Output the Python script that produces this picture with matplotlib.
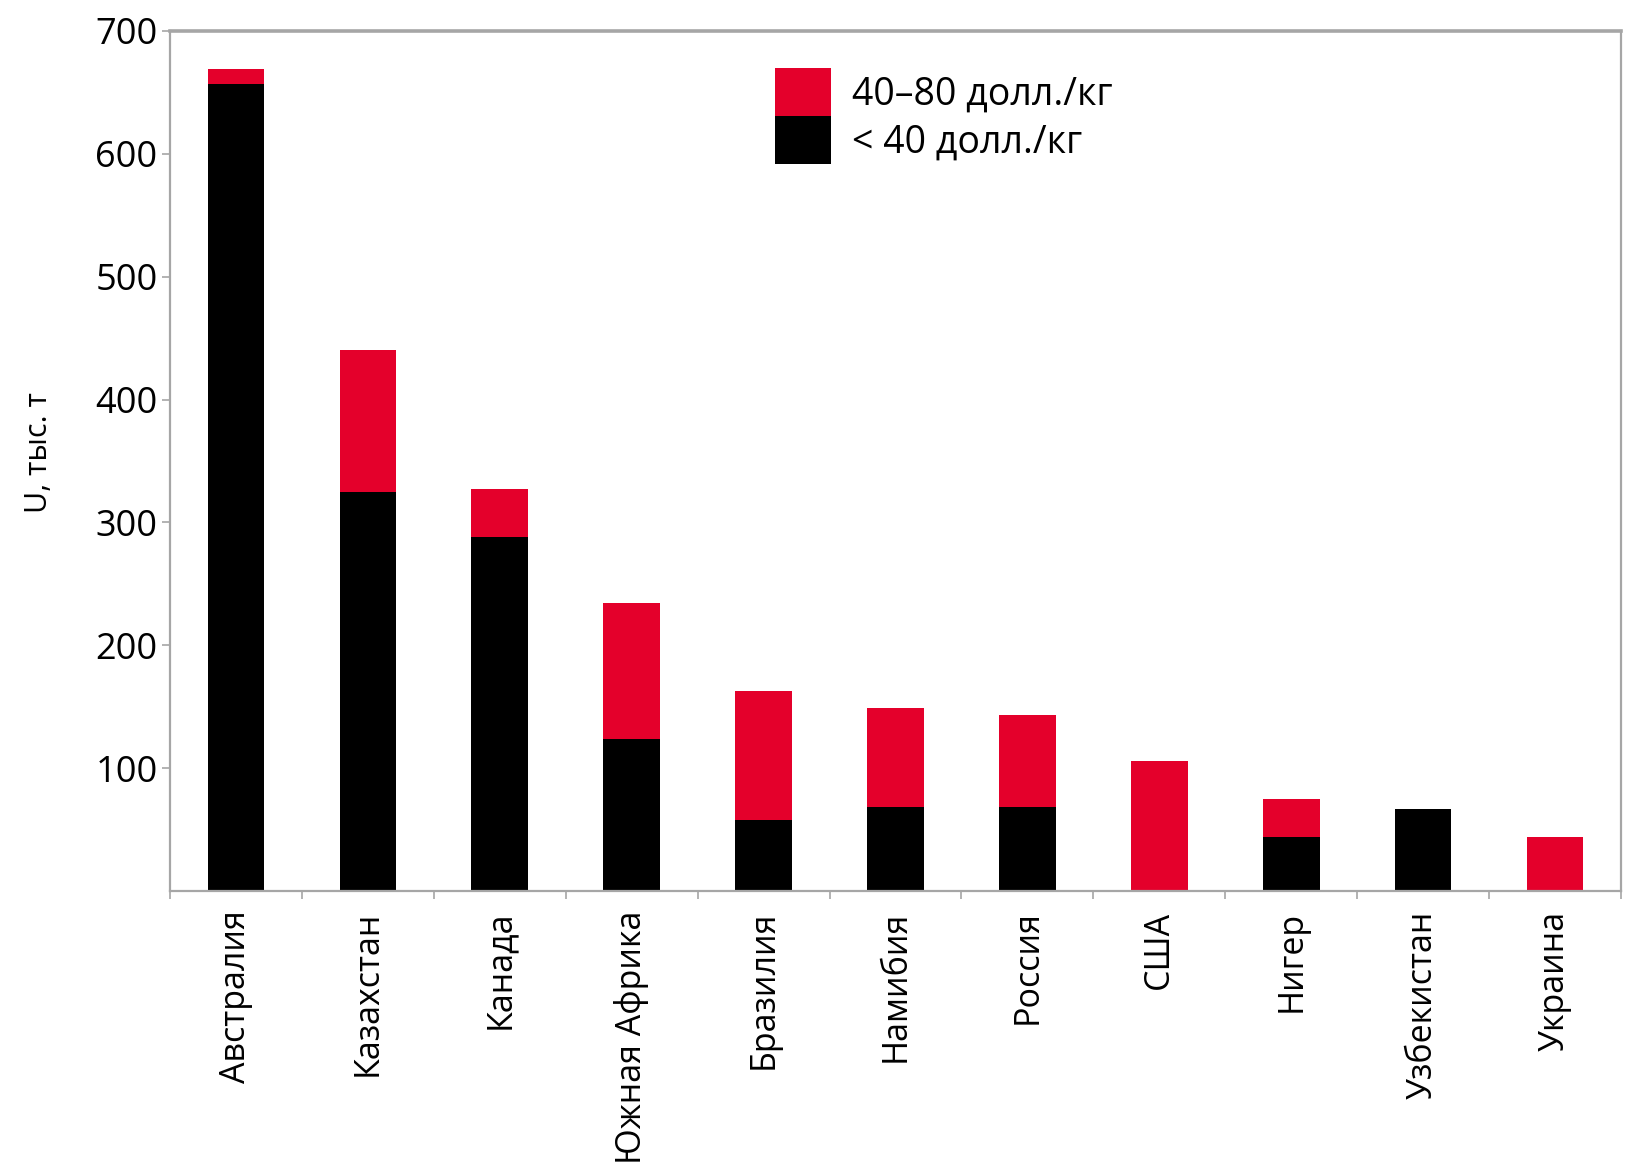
import matplotlib
matplotlib.use("Agg")
import matplotlib.pyplot as plt
import numpy as np
from matplotlib.patches import Patch

plt.rcParams['font.family'] = ['Open Sans', 'DejaVu Sans']

countries = ['Австралия', 'Казахстан', 'Канада', 'Южная Африка', 'Бразилия',
             'Намибия', 'Россия', 'США', 'Нигер', 'Узбекистан', 'Украина']
# запасы урана, тыс. т
below_40 = [657, 325, 288, 124, 58, 68, 68, 0, 44, 67, 0]
from_40_to_80 = [12, 115, 39, 110, 105, 81, 75, 106, 31, 0, 44]

RED = '#e4002b'
GREY = '#a6a6a6'

fig = plt.figure(figsize=(16.41, 11.74), dpi=100)
ax = fig.add_axes([0.1036, 0.2411, 0.8842, 0.7325])

x = np.arange(len(countries))
ax.bar(x, below_40, width=0.43, color='black', zorder=2)
ax.bar(x, from_40_to_80, width=0.43, bottom=below_40, color=RED, zorder=2)

ax.set_xlim(-0.5, len(countries) - 0.5)
ax.set_ylim(0, 700)
ax.set_yticks(range(100, 701, 100))
ax.tick_params(axis='y', labelsize=26, length=6, width=1.2, color=GREY, pad=3)

ax.set_xticks(x)
ax.set_xticklabels(countries, rotation=90, fontsize=24.5, va='top')
ax.set_xticks(np.arange(-0.5, len(countries), 1), minor=True)
ax.tick_params(axis='x', which='major', length=0, pad=14)
ax.tick_params(axis='x', which='minor', length=6, width=1.2, color=GREY)

for side in ['left', 'bottom', 'right']:
    ax.spines[side].set_color(GREY)
    ax.spines[side].set_linewidth(1.6)
ax.spines['top'].set_color(GREY)
ax.spines['top'].set_linewidth(2.6)

ax.set_ylabel('U, тыс. т', fontsize=22)
ax.yaxis.set_label_coords(-0.08, 0.51)

handles = [Patch(facecolor=RED, edgecolor='none'),
           Patch(facecolor='black', edgecolor='none')]
ax.legend(handles, ['40–80 долл./кг', '< 40 долл./кг'],
          loc='upper left', bbox_to_anchor=(0.417, 0.957),
          frameon=False, fontsize=27, borderpad=0, borderaxespad=0,
          labelspacing=0, handlelength=1.5, handleheight=1.6,
          handletextpad=0.55)

fig.savefig('out.png', dpi=100)
